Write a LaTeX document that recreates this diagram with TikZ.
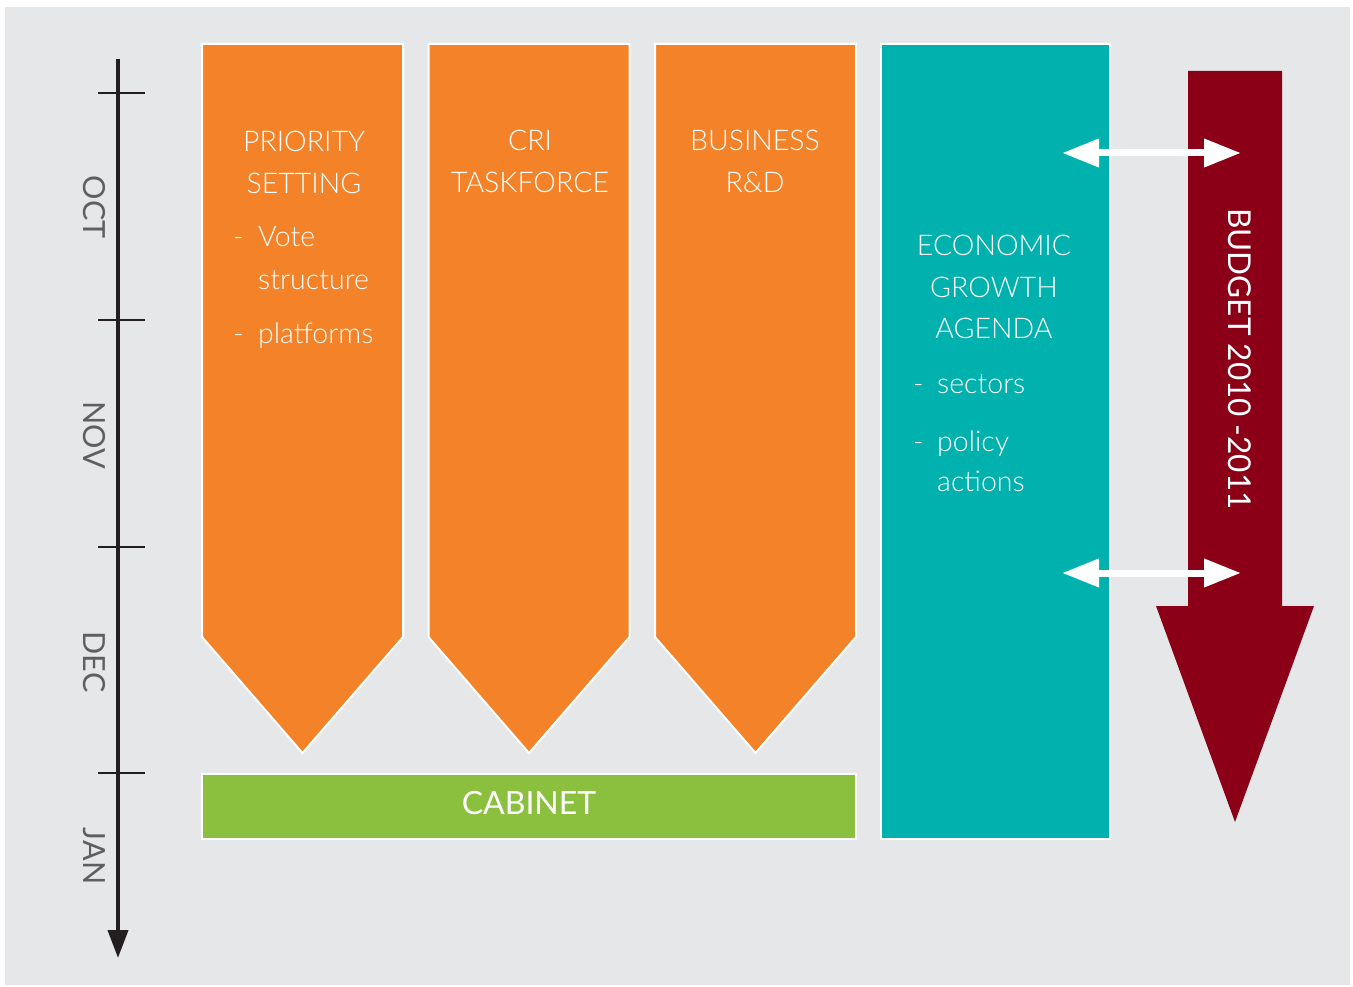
\documentclass[tikz,border=0pt]{standalone}
\usepackage{fontspec}
\IfFontExistsTF{Lato Light}{\setmainfont{Lato Light}}{\setmainfont{Lato}}
\newfontfamily\regularfont{Lato}
\usetikzlibrary{arrows.meta}
\definecolor{bggray}{HTML}{E6E7E8}
\definecolor{planorange}{HTML}{F38229}
\definecolor{cabgreen}{HTML}{8BC03E}
\definecolor{agendateal}{HTML}{00B1AE}
\definecolor{budgetred}{HTML}{8B0016}
\definecolor{axisblack}{HTML}{231F20}
\definecolor{monthgray}{HTML}{5E5F61}
\begin{document}
\begin{tikzpicture}[x=1pt,y=-1pt]
      \tikzstyle{chevron}=[fill=planorange,draw=white,line width=2pt]
      \tikzstyle{panel}=[draw=white,line width=2pt]
      \tikzstyle{boxlabel}=[text=white,inner sep=0pt,font=\fontsize{28.5}{41.5}\selectfont]
      \tikzstyle{monthname}=[text=monthgray,inner sep=0pt,rotate=-90,font=\regularfont\fontsize{30.5}{36}\selectfont]
      \tikzstyle{link}=[draw,white,line width=7pt,{Triangle[length=37pt,width=27pt]}-{Triangle[length=37pt,width=27pt]}]
      \useasboundingbox (0,0) rectangle (1353,987);
      \path[fill=bggray] (5,7) rectangle (1350,985);
      % time axis with month ticks
      \coordinate (T0) at (118,59);
      \coordinate (T1) at (118,958);
      \path[draw,axisblack,line width=4pt,-{Triangle[length=28pt,width=20pt]}] (T0) -- (T1);
      \foreach \y in {93,320,547,773}
        \path[draw,axisblack,line width=2.5pt] (98,\y) -- (145,\y);
      \foreach \m/\y in {OCT/207,NOV/435,DEC/662,JAN/856}
        \node[monthname] (M\m) at (94,\y) {\m};
      % three work streams
      \foreach \x in {202,428.5,655}
        \path[chevron] (\x,44) -- ++(201,0) -- ++(0,593) -- ++(-100.5,116) -- ++(-100.5,-116) -- cycle;
      \path[panel,fill=cabgreen] (202,774) rectangle (856,839);
      \path[panel,fill=agendateal] (881,44) rectangle (1110,839);
      % budget arrow
      \path[fill=budgetred] (1188,71) -- (1282,71) -- (1282,606) -- (1314,606) -- (1235,822) -- (1156,606) -- (1188,606) -- cycle;
      \node[text=white,inner sep=0pt,rotate=-90,font=\regularfont\fontsize{31.5}{36}\selectfont] (BT) at (1240,359) {BUDGET 2010 -2011};
      % texts
      \node[boxlabel,anchor=base] (PS) at (304,152) {\begin{tabular}[t]{@{}c@{}}PRIORITY\\SETTING\end{tabular}};
      \node[boxlabel,anchor=base west] (PL) at (233,247) {\begin{tabular}[t]{@{}p{25pt}@{}l@{}}-&Vote\\[1.5pt] &structure\\[12.5pt] -&platforms\end{tabular}};
      \node[boxlabel,anchor=base] (CRI) at (530,151) {\begin{tabular}[t]{@{}c@{}}CRI\\TASKFORCE\end{tabular}};
      \node[boxlabel,anchor=base] (BRD) at (755,151) {\begin{tabular}[t]{@{}c@{}}BUSINESS\\R\&D\end{tabular}};
      \node[boxlabel,anchor=base] (EGA) at (994,256) {\begin{tabular}[t]{@{}c@{}}ECONOMIC\\GROWTH\\AGENDA\end{tabular}};
      \node[boxlabel,anchor=base west] (EL) at (913,393) {\begin{tabular}[t]{@{}p{24pt}@{}l@{}}-&sectors\\[16.5pt] -&policy\\[-1.5pt] &actions\end{tabular}};
      \node[boxlabel,font=\regularfont\fontsize{32}{36}\selectfont] (CAB) at (529,803) {CABINET};
      % links between agenda and budget
      \coordinate (E1) at (1062,153);
      \coordinate (B1) at (1241,153);
      \coordinate (E2) at (1062,573);
      \coordinate (B2) at (1241,573);
      \path[link] (E1) -- (B1);
      \path[link] (E2) -- (B2);
\end{tikzpicture}
\end{document}
